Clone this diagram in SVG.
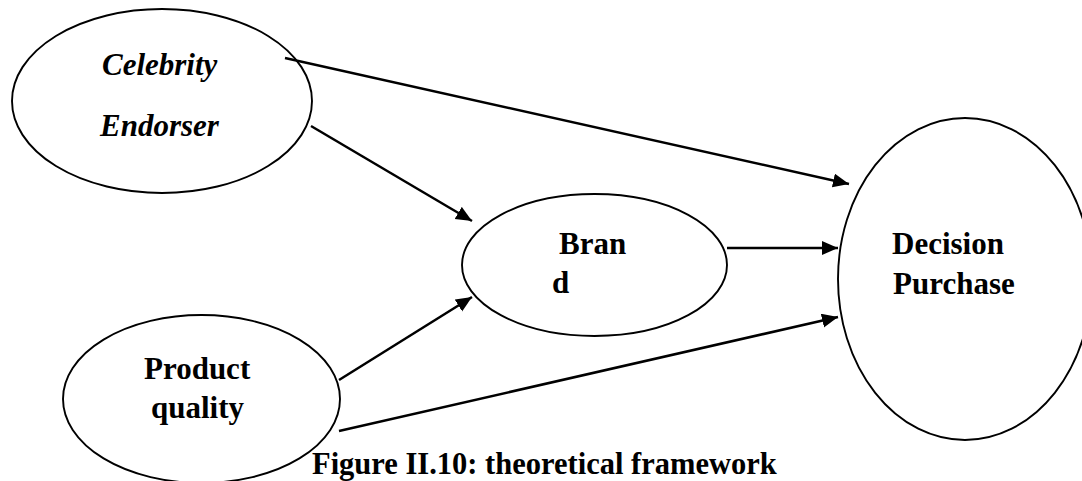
<svg xmlns="http://www.w3.org/2000/svg" width="1082" height="481" viewBox="0 0 1082 481">
<style>
.node ellipse{fill:#fff;stroke:#000;stroke-width:1.9}
.t{font-family:"Liberation Serif","Times New Roman",serif;font-size:31px;font-weight:bold;fill:#000}
.it{font-style:italic}
.conn line{stroke:#000;stroke-width:2.5}
</style>
<defs>
<marker id="ah" markerUnits="userSpaceOnUse" markerWidth="17" markerHeight="15" refX="16" refY="7" orient="auto">
<path d="M0,0 L16,7 L0,14 z" fill="#000"/>
</marker>
</defs>
<rect width="1082" height="481" fill="#fff"/>
<g id="celebrity" class="node">
<ellipse cx="162" cy="101" rx="150" ry="92"/>
<text class="t it" x="102" y="75">Celebrity</text>
<text class="t it" x="100" y="136">Endorser</text>
</g>
<g id="brand" class="node">
<ellipse cx="594.5" cy="265" rx="132.5" ry="71"/>
<text class="t" x="559" y="254">Bran</text>
<text class="t" x="552" y="293">d</text>
</g>
<g id="decision" class="node">
<ellipse cx="965" cy="279" rx="127" ry="161"/>
<text class="t" x="892" y="254">Decision</text>
<text class="t" x="893" y="294">Purchase</text>
</g>
<g id="product" class="node">
<ellipse cx="201.5" cy="399" rx="138.5" ry="84"/>
<text class="t" x="144" y="379">Product</text>
<text class="t" x="151" y="418">quality</text>
</g>
<g id="connectors" class="conn">
<line x1="285" y1="58" x2="849" y2="184" marker-end="url(#ah)"/>
<line x1="311" y1="126" x2="472" y2="221" marker-end="url(#ah)"/>
<line x1="727" y1="248" x2="838" y2="248" marker-end="url(#ah)"/>
<line x1="339" y1="380" x2="472" y2="297" marker-end="url(#ah)"/>
<line x1="339" y1="431" x2="838" y2="317" marker-end="url(#ah)"/>
</g>
<text id="caption" class="t" x="312" y="474" style="font-size:30.5px">Figure II.10: theoretical framework</text>
</svg>
